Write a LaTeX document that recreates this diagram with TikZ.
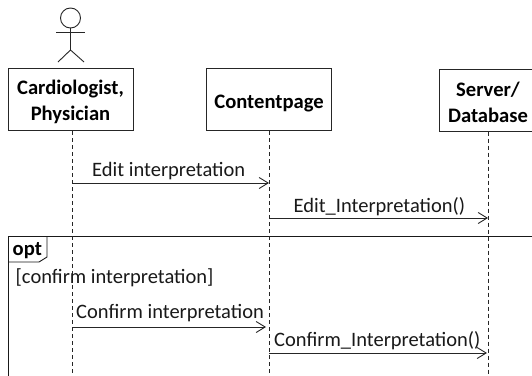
\documentclass[tikz,border=0pt]{standalone}
\usepackage{fontspec}
\setmainfont{Carlito}
\usetikzlibrary{arrows.meta}
\tikzset{
  lifebox/.style={draw=black!85,line width=1pt,fill=white,inner sep=0pt},
  lifetext/.style={align=center,inner sep=0pt,font=\fontsize{20.6}{26}\selectfont\bfseries},
  lifeline/.style={draw=black!85,line width=.9pt,dash pattern=on 4pt off 3pt},
  msg/.style={draw=black!85,line width=1pt,-{Straight Barb[length=9pt,width=11pt,line width=.9pt]}},
  msgtext/.style={font=\fontsize{20.5}{24}\selectfont,inner sep=0pt,text=black!90},
  figure/.style={draw=black!85,line width=.9pt},
  frameline/.style={draw=black!90,line width=1pt}
}
\begin{document}
\begin{tikzpicture}[x=1pt,y=-1pt]
\clip (0,0) rectangle (532,375);
\fill[white] (0,0) rectangle (532,375);
% actor
\node[figure,circle,minimum size=20pt,inner sep=0pt] (head) at (70.5,18) {};
\coordinate (armL) at (56,32.5);
\coordinate (armR) at (85,32.5);
\coordinate (hip) at (70.5,50);
\coordinate (legL) at (58,62);
\coordinate (legR) at (84,62);
\draw[figure] (head.south) -- (hip);
\draw[figure] (armL) -- (armR);
\draw[figure] (legL) -- (hip) -- (legR);
% lifeline ends and message ends
\coordinate (endA) at (72,375);
\coordinate (endB) at (269,375);
\coordinate (endC) at (488,375);
% frame
\coordinate (frameTL) at (8,236);
\coordinate (frameTR) at (540,236);
\coordinate (frameBL) at (8,380);
\draw[frameline] (frameBL) -- (frameTL) -- (frameTR);
\coordinate (tabB) at (8,262);
\coordinate (tabC) at (39,262);
\coordinate (tabD) at (47,257);
\coordinate (tabE) at (47,236);
\draw[frameline,line width=.9pt] (tabB) -- (tabC) -- (tabD) -- (tabE);
% boxes
\node[lifebox,minimum width=125pt,minimum height=62pt] (a) at (70.5,99.5) {};
\node[lifebox,minimum width=125pt,minimum height=62pt] (b) at (269,99.5) {};
\node[lifebox,minimum width=98pt,minimum height=62pt] (c) at (488,100) {};
\node[lifetext] (at) at ([yshift=-2pt]a.center) {Cardiologist,\\Physician};
\node[lifetext] (bt) at ([yshift=-4pt]b.center) {Contentpage};
\node[lifetext] (ct) at ([yshift=-2pt]c.center) {Server/\\Database};
% lifelines
\draw[lifeline] (a.south -| endA) -- (endA);
\draw[lifeline] (b.south -| endB) -- (endB);
\draw[lifeline] (c.south -| endC) -- (endC);
% messages
\coordinate (m1a) at (72,183); \coordinate (m1b) at (269,183);
\coordinate (m2a) at (269,218); \coordinate (m2b) at (488,218);
\coordinate (m3a) at (72,327); \coordinate (m3b) at (266,327);
\coordinate (m4a) at (269,353); \coordinate (m4b) at (487,353);
\draw[msg] (m1a) -- (m1b);
\draw[msg] (m2a) -- (m2b);
\draw[msg] (m3a) -- (m3b);
\draw[msg] (m4a) -- (m4b);
% labels
\node[msgtext,anchor=base west] (l1) at (92,176) {Edit interpretation};
\node[msgtext,anchor=base west] (l2) at (293.5,212) {Edit\_Interpretation()};
\node[msgtext,anchor=base west] (l3) at (76,318) {Confirm interpretation};
\node[msgtext,anchor=base west] (l4) at (274,346) {Confirm\_Interpretation()};
\node[msgtext,anchor=base west] (guard) at (15.5,283) {[confirm interpretation]};
\node[font=\fontsize{20.6}{24}\selectfont\bfseries,anchor=base west,inner sep=0pt] (opt) at (12.5,255) {opt};
\end{tikzpicture}
\end{document}
